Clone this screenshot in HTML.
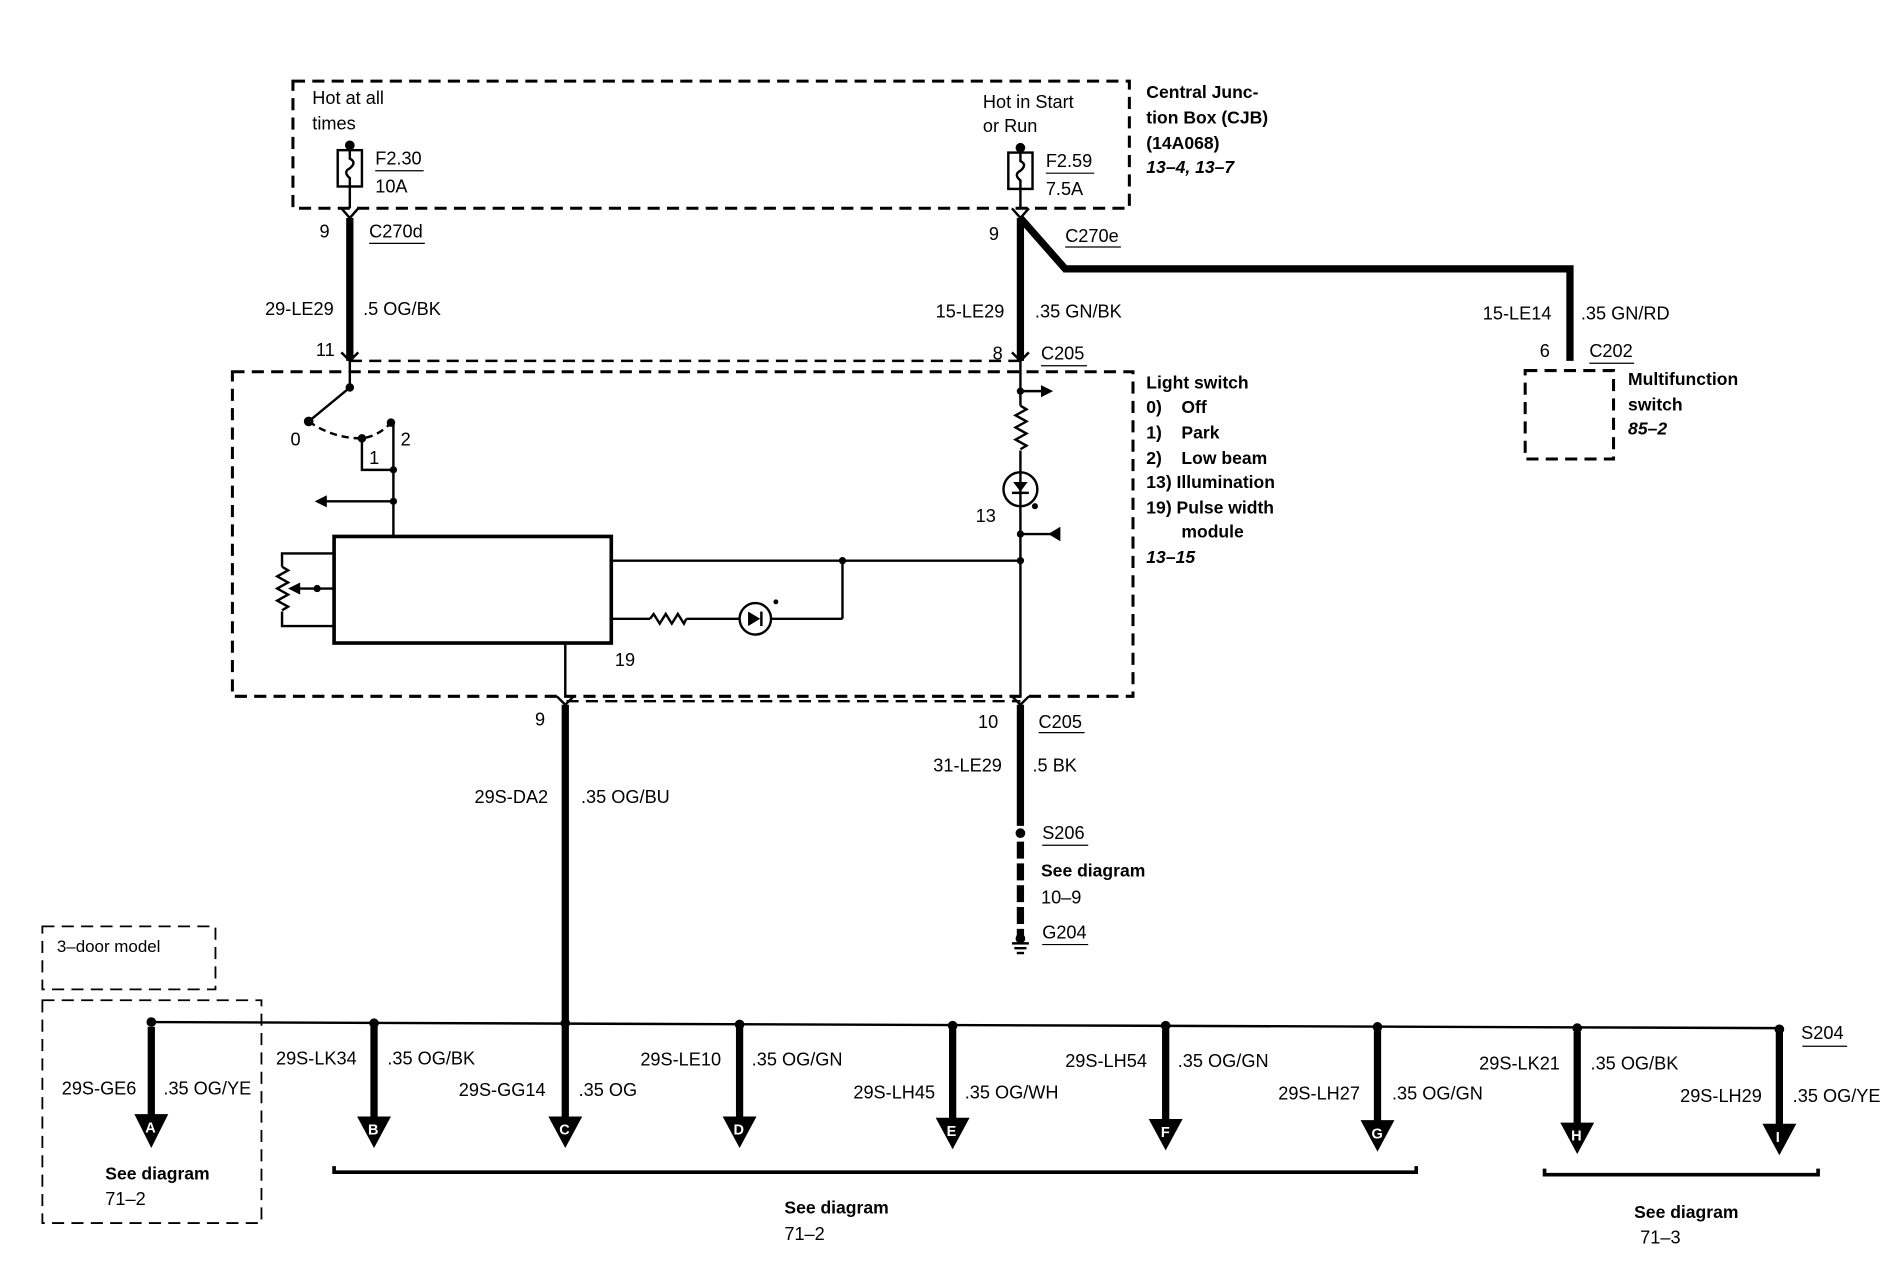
<!DOCTYPE html>
<html><head><meta charset="utf-8"><style>
html,body{margin:0;padding:0;background:#fff;width:1898px;height:1280px;overflow:hidden}
svg{display:block}
text{font-family:"Liberation Sans",sans-serif;font-size:15px;fill:#000}
.b{font-weight:bold;font-size:14.5px}
.i{font-style:italic;font-weight:bold;font-size:14.5px}
.w{fill:#fff;font-weight:bold;font-size:12px}
</style></head><body>
<svg width="1898" height="1280" viewBox="0 0 1568 1057" preserveAspectRatio="none">
<g fill="none" stroke="#000">
<g stroke-width="2.5" stroke-dasharray="10,6">
<rect x="242" y="67" width="691" height="105"/>
<rect x="192" y="307" width="744" height="268"/>
<rect x="1260" y="306" width="73" height="73"/>
<rect x="35" y="765" width="143" height="52" stroke-width="1.5"/>
<rect x="35" y="826" width="181" height="184" stroke-width="1.5"/>
<line x1="289" y1="298" x2="843" y2="298" stroke-width="2"/>
<line x1="468" y1="579" x2="843" y2="579" stroke-width="2"/>
</g>
<g stroke-width="2">
<line x1="289" y1="120" x2="289" y2="172"/>
<rect x="279" y="124" width="20" height="30" fill="#fff"/>
<path d="M289 124 v7 q6 3 0 8 q-6 3 0 8 v7"/>
<line x1="843" y1="122" x2="843" y2="172"/>
<rect x="833" y="126" width="20" height="30" fill="#fff"/>
<path d="M843 126 v7 q6 3 0 8 q-6 3 0 8 v7"/>
<line x1="310" y1="141" x2="350" y2="141" stroke-width="1"/>
<line x1="864" y1="143" x2="904" y2="143" stroke-width="1"/>
</g>
<g stroke-width="6">
<line x1="289" y1="180" x2="289" y2="298"/>
<line x1="843" y1="180" x2="843" y2="298"/>
<polyline points="843,180 880,222 1297,222 1297,298"/>
<line x1="467" y1="582" x2="467" y2="845"/>
<line x1="843" y1="582" x2="843" y2="682"/>
<line x1="843" y1="695" x2="843" y2="775" stroke-dasharray="14,4"/>
</g>
<g stroke-width="2">
<polyline points="282,172 289,180 296,172"/>
<polyline points="836,172 843,180 850,172"/>
<polyline points="282,291 289,298 296,291"/>
<polyline points="836,291 843,298 850,291"/>
<polyline points="460,575 467,582 474,575"/>
<polyline points="836,575 843,582 850,575"/>
<line x1="289" y1="298" x2="289" y2="320"/>
<line x1="289" y1="320" x2="255" y2="348"/>
<path d="M255 348 q20 14 44 14 q14 -2 24 -13" stroke-dasharray="6,4"/>
<polyline points="299,362 299,388 325,388"/>
<line x1="325" y1="349" x2="325" y2="443"/>
<line x1="325" y1="414" x2="268" y2="414"/>
<rect x="276" y="443" width="229" height="88" stroke-width="3"/>
<polyline points="276,457 233,457 233,468"/>
<polyline points="233,505 233,517 276,517"/>
<path d="M233 468 l5 3 l-9 5 l9 5 l-9 5 l9 5 l-9 5 l9 5 l-5 3"/>
<line x1="276" y1="486" x2="246" y2="486"/>
<line x1="505" y1="463" x2="843" y2="463"/>
<line x1="505" y1="511" x2="537" y2="511"/>
<path d="M537 511 l3 -4 l5 8 l5 -8 l5 8 l5 -8 l5 8 l2 -4"/>
<line x1="567" y1="511" x2="611" y2="511"/>
<circle cx="624" cy="511" r="13"/>
<line x1="637" y1="511" x2="696" y2="511"/>
<line x1="696" y1="511" x2="696" y2="463"/>
<line x1="843" y1="298" x2="843" y2="335"/>
<path d="M843 335 l5 3 l-9 5 l9 5 l-9 5 l9 5 l-9 5 l9 5 l-5 3"/>
<line x1="843" y1="372" x2="843" y2="575"/>
<circle cx="843" cy="404" r="14"/>
<line x1="843" y1="323" x2="860" y2="323"/>
<line x1="843" y1="441" x2="870" y2="441"/>
<line x1="467" y1="531" x2="467" y2="575"/>
<g stroke-width="1">
<line x1="305" y1="201" x2="351" y2="201"/>
<line x1="880" y1="204" x2="926" y2="204"/>
<line x1="860" y1="302" x2="898" y2="302"/>
<line x1="1313" y1="300" x2="1350" y2="300"/>
<line x1="858" y1="605" x2="896" y2="605"/>
<line x1="861" y1="698" x2="899" y2="698"/>
<line x1="861" y1="780" x2="899" y2="780"/>
<line x1="1489" y1="864" x2="1526" y2="864"/>
</g>
<line x1="125" y1="844" x2="1470" y2="849"/>
<polyline points="276,963 276,968 1170,968 1170,963" stroke-width="3"/>
<polyline points="1276,965 1276,970 1502,970 1502,965" stroke-width="3"/>
</g>
<g stroke-width="6">
<line x1="125" y1="848" x2="125" y2="925"/><line x1="309" y1="848" x2="309" y2="925"/>
<line x1="467" y1="848" x2="467" y2="925"/><line x1="611" y1="848" x2="611" y2="925"/>
<line x1="787" y1="850" x2="787" y2="927"/><line x1="963" y1="850" x2="963" y2="927"/>
<line x1="1138" y1="850" x2="1138" y2="928"/><line x1="1303" y1="852" x2="1303" y2="930"/>
<line x1="1470" y1="853" x2="1470" y2="930"/>
</g>
</g>
<g fill="#000">
<circle cx="289" cy="120" r="4"/><circle cx="843" cy="122" r="4"/>
<circle cx="289" cy="320" r="3.5"/><circle cx="255" cy="348" r="4"/><circle cx="299" cy="362" r="3.5"/><circle cx="323" cy="349" r="3.5"/>
<circle cx="325" cy="388" r="3"/><circle cx="325" cy="414" r="3"/>
<polygon points="260,414 270,409 270,419"/>
<polygon points="238,486 248,481 248,491"/><circle cx="262" cy="486" r="3"/>
<circle cx="696" cy="463" r="3"/><circle cx="843" cy="463" r="3"/>
<circle cx="843" cy="323" r="3"/><polygon points="870,323 860,318 860,328"/>
<circle cx="843" cy="441" r="3"/><polygon points="866,441 876,435 876,447"/>
<polygon points="618,505 618,517 628,511"/><rect x="628" y="505" width="2" height="12"/>
<polygon points="837,398 849,398 843,406"/><rect x="836" y="406" width="14" height="2"/>
<circle cx="855" cy="418" r="2.5"/><circle cx="641" cy="497" r="2"/>
<circle cx="843" cy="688" r="4"/>
<circle cx="843" cy="775" r="4"/><rect x="836" y="778" width="14" height="2"/><rect x="838" y="782" width="10" height="2"/><rect x="840" y="786" width="6" height="2"/>
<circle cx="125" cy="844" r="4"/><circle cx="309" cy="845" r="4"/><circle cx="467" cy="845" r="4"/><circle cx="611" cy="846" r="4"/>
<circle cx="787" cy="847" r="4"/><circle cx="963" cy="847" r="4"/><circle cx="1138" cy="848" r="4"/><circle cx="1303" cy="849" r="4"/><circle cx="1470" cy="850" r="4"/>
<polygon points="111,920 139,920 125,948"/><polygon points="295,922 323,922 309,948"/>
<polygon points="453,922 481,922 467,948"/><polygon points="597,922 625,922 611,948"/>
<polygon points="773,923 801,923 787,949"/><polygon points="949,924 977,924 963,950"/>
<polygon points="1124,925 1152,925 1138,951"/><polygon points="1289,927 1317,927 1303,953"/>
<polygon points="1456,928 1484,928 1470,954"/>
</g>
<text class="w" x="120" y="935">A</text><text class="w" x="304" y="937">B</text><text class="w" x="462" y="937">C</text>
<text class="w" x="606" y="937">D</text><text class="w" x="782" y="938">E</text><text class="w" x="959" y="939">F</text>
<text class="w" x="1133" y="940">G</text><text class="w" x="1298" y="942">H</text><text class="w" x="1467" y="943">I</text>
<text x="258" y="86">Hot at all</text><text x="258" y="107">times</text>
<text x="812" y="89">Hot in Start</text><text x="812" y="109">or Run</text>
<text x="310" y="136">F2.30</text><text x="310" y="159">10A</text>
<text x="864" y="138">F2.59</text><text x="864" y="161">7.5A</text>
<text class="b" x="947" y="81">Central Junc-</text><text class="b" x="947" y="102">tion Box (CJB)</text>
<text class="b" x="947" y="123">(14A068)</text><text class="i" x="947" y="143">13–4, 13–7</text>
<text x="264" y="196">9</text><text x="305" y="196">C270d</text>
<text x="817" y="198">9</text><text x="880" y="200">C270e</text>
<text x="219" y="260">29-LE29</text><text x="300" y="260">.5 OG/BK</text>
<text x="773" y="262">15-LE29</text><text x="855" y="262">.35 GN/BK</text>
<text x="1225" y="264">15-LE14</text><text x="1306" y="264">.35 GN/RD</text>
<text x="261" y="294">11</text><text x="820" y="297">8</text><text x="860" y="297">C205</text>
<text x="1272" y="295">6</text><text x="1313" y="295">C202</text>
<text class="b" x="1345" y="318">Multifunction</text><text class="b" x="1345" y="339">switch</text><text class="i" x="1345" y="359">85–2</text>
<text class="b" x="947" y="321">Light switch</text>
<text class="b" x="947" y="341">0)</text><text class="b" x="976" y="341">Off</text>
<text class="b" x="947" y="362">1)</text><text class="b" x="976" y="362">Park</text>
<text class="b" x="947" y="383">2)</text><text class="b" x="976" y="383">Low beam</text>
<text class="b" x="947" y="403">13) Illumination</text>
<text class="b" x="947" y="424">19) Pulse width</text>
<text class="b" x="976" y="444">module</text>
<text class="i" x="947" y="465">13–15</text>
<text x="240" y="368">0</text><text x="331" y="368">2</text><text x="305" y="383">1</text>
<text x="806" y="431">13</text><text x="508" y="550">19</text>
<text x="442" y="599">9</text><text x="808" y="601">10</text><text x="858" y="601">C205</text>
<text x="392" y="663">29S-DA2</text><text x="480" y="663">.35 OG/BU</text>
<text x="771" y="637">31-LE29</text><text x="853" y="637">.5 BK</text>
<text x="861" y="693">S206</text><text class="b" x="860" y="724">See diagram</text><text x="860" y="746">10–9</text>
<text x="861" y="775">G204</text>
<text x="47" y="786" style="font-size:14px">3–door model</text>
<text x="51" y="904">29S-GE6</text><text x="135" y="904">.35 OG/YE</text>
<text x="228" y="879">29S-LK34</text><text x="320" y="879">.35 OG/BK</text>
<text x="379" y="905">29S-GG14</text><text x="478" y="905">.35 OG</text>
<text x="529" y="880">29S-LE10</text><text x="621" y="880">.35 OG/GN</text>
<text x="705" y="907">29S-LH45</text><text x="797" y="907">.35 OG/WH</text>
<text x="880" y="881">29S-LH54</text><text x="973" y="881">.35 OG/GN</text>
<text x="1056" y="908">29S-LH27</text><text x="1150" y="908">.35 OG/GN</text>
<text x="1222" y="883">29S-LK21</text><text x="1314" y="883">.35 OG/BK</text>
<text x="1388" y="910">29S-LH29</text><text x="1481" y="910">.35 OG/YE</text>
<text x="1488" y="858">S204</text>
<text class="b" x="87" y="974">See diagram</text><text x="87" y="995">71–2</text>
<text class="b" x="648" y="1002">See diagram</text><text x="648" y="1024">71–2</text>
<text class="b" x="1350" y="1006">See diagram</text><text x="1355" y="1027">71–3</text>
</svg>
</body></html>
